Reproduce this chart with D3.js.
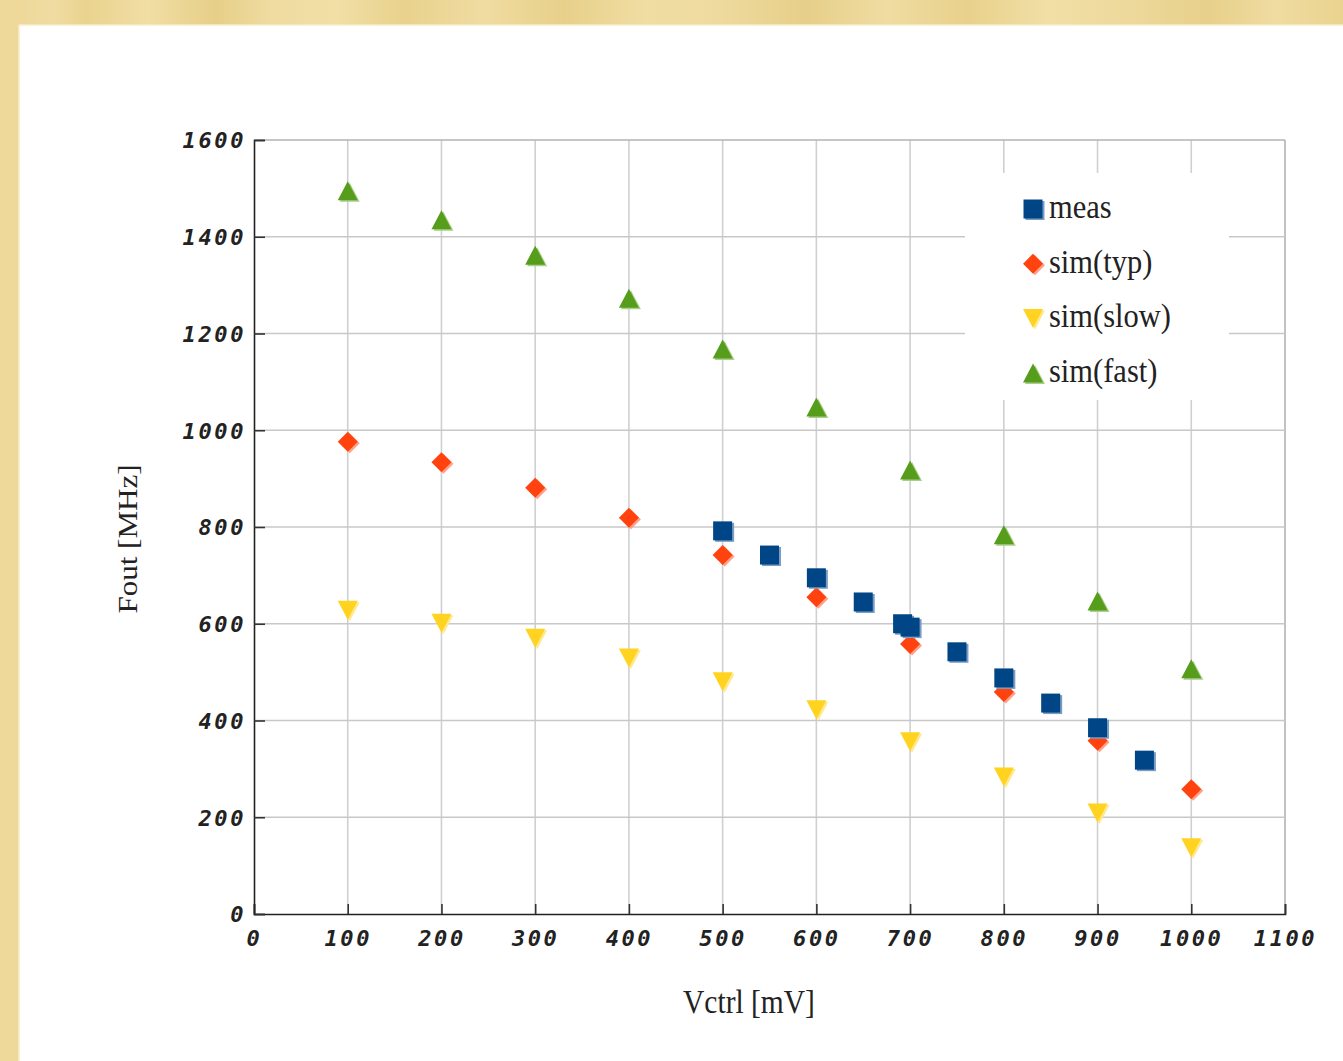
<!DOCTYPE html>
<html>
<head>
<meta charset="utf-8">
<script src="https://cdn.jsdelivr.net/npm/d3@7"></script>
<style>
  html, body { margin: 0; padding: 0; background: #fff; }
  svg { display: block; }
</style>
</head>
<body>
<svg id="chart" width="1343" height="1061"></svg>
<script>
// Control voltage (mV) vs. output frequency (MHz)
const measX = [500, 550, 600, 650, 692, 700, 750, 800, 850, 900, 950];
const measY = [792, 742, 695, 645, 600, 593, 542, 488, 436, 385, 318];
const simX = [100, 200, 300, 400, 500, 600, 700, 800, 900, 1000];
const typY = [976, 934, 881, 819, 742, 655, 558, 459, 358, 258];
const slowY = [628, 601, 570, 529, 480, 422, 356, 283, 209, 137];
const fastY = [1495, 1435, 1362, 1273, 1168, 1048, 918, 784, 647, 507];
const seriesNames = ["meas", "sim(typ)", "sim(slow)", "sim(fast)"];
const xTicks = [0, 100, 200, 300, 400, 500, 600, 700, 800, 900, 1000, 1100];
const yTicks = [0, 200, 400, 600, 800, 1000, 1200, 1400, 1600];

const colors = { meas: "#004586", typ: "#ff420e", slow: "#ffd320", fast: "#579d1c" };
const shades = { meas: "#7b9cc4", typ: "#ffa08a", slow: "#ffe98f", fast: "#a9cf8a" };

const svg = d3.select("#chart");
const W = 1343, H = 1061;

// ---- framed background ----
const defs = svg.append("defs");
const band = defs.append("linearGradient").attr("id", "band").attr("x1", 0).attr("x2", 1).attr("y1", 0).attr("y2", 0);
[[0, "#ecd796"], [0.04, "#f0dca2"], [0.065, "#e9d38f"], [0.11, "#f1dea4"], [0.16, "#e6cf88"],
 [0.2, "#efdba0"], [0.25, "#f1dfa6"], [0.3, "#e8d28d"], [0.36, "#f0dca1"], [0.42, "#e7d08a"],
 [0.48, "#f0dda2"], [0.53, "#efdba0"], [0.6, "#e6cf89"], [0.66, "#f0dca2"], [0.72, "#e8d18c"],
 [0.78, "#f1dfa6"], [0.84, "#eed99c"], [0.9, "#e7d08a"], [0.95, "#f0dca1"], [1, "#e9d38f"]]
  .forEach(([o, c]) => band.append("stop").attr("offset", o).attr("stop-color", c));

svg.append("rect").attr("x", 0).attr("y", 0).attr("width", W).attr("height", 25).attr("fill", "url(#band)");
svg.append("rect").attr("x", 0).attr("y", 0).attr("width", 19).attr("height", H).attr("fill", "#eed99b");
svg.append("rect").attr("x", 19).attr("y", 25).attr("width", W - 19).attr("height", H - 25).attr("fill", "#ffffff");
svg.append("line").attr("x1", 19).attr("x2", W).attr("y1", 25).attr("y2", 25).attr("stroke", "#f8eccb").attr("stroke-width", 1.5);
svg.append("line").attr("x1", 19).attr("x2", 19).attr("y1", 25).attr("y2", H).attr("stroke", "#f8eccb").attr("stroke-width", 1.5);

// ---- scales ----
const x = d3.scaleLinear().domain([0, 1100]).range([254, 1285]);
const y = d3.scaleLinear().domain([0, 1600]).range([914, 140]);

// ---- grid ----
const grid = svg.append("g");
grid.selectAll("line.v").data(xTicks.filter(d => d > 0)).join("line")
  .attr("x1", d => x(d)).attr("x2", d => x(d)).attr("y1", y(1600)).attr("y2", y(0))
  .attr("stroke", d => d === 1100 ? "#b3b3b3" : "#d0d0d0").attr("stroke-width", 1.6);
grid.selectAll("line.h").data(yTicks.filter(d => d > 0)).join("line")
  .attr("x1", x(0)).attr("x2", x(1100)).attr("y1", d => y(d)).attr("y2", d => y(d))
  .attr("stroke", d => d === 1600 ? "#b3b3b3" : "#c8c8c8").attr("stroke-width", 1.4);

// ---- axes ----
const tickFont = "'DejaVu Sans Mono', monospace";
const xAxis = svg.append("g").attr("transform", `translate(0,${y(0)})`)
  .call(d3.axisBottom(x).tickValues(xTicks).tickFormat(d3.format("d")).tickSize(-10).tickPadding(16));
const yAxis = svg.append("g").attr("transform", `translate(${x(0)},0)`)
  .call(d3.axisLeft(y).tickValues(yTicks).tickFormat(d3.format("d")).tickSize(-11).tickPadding(8));
[xAxis, yAxis].forEach(g => {
  g.select(".domain").attr("stroke", "#222").attr("stroke-width", 1.6);
  g.selectAll(".tick line").attr("stroke", "#333").attr("stroke-width", 1.6);
  g.selectAll(".tick text")
    .attr("fill", "#222")
    .style("font-family", tickFont)
    .style("font-size", "22px")
    .style("font-weight", "bold")
    .style("font-style", "italic")
    .style("letter-spacing", "2.6px");
});
xAxis.selectAll(".tick text").attr("dy", "0.71em");
yAxis.selectAll(".tick text").attr("dy", "0.36em");

// ---- axis titles ----
const serif = "'Liberation Serif', 'Times New Roman', serif";
svg.append("text").attr("transform", "translate(749,1013) scale(1,1.12)")
  .attr("text-anchor", "middle").attr("fill", "#222")
  .style("font-family", serif).style("font-size", "29.5px").text("Vctrl [mV]");
svg.append("text").attr("transform", "translate(137,539) rotate(-90) scale(1.15,1)")
  .attr("text-anchor", "middle").attr("fill", "#222")
  .style("font-family", serif).style("font-size", "27px").text("Fout [MHz]");

// ---- marker shapes (centred on their bounding box) ----
const shapes = {
  meas: "M-9.5,-9.5H9.5V9.5H-9.5Z",
  typ: "M0,-10L10,0L0,10L-10,0Z",
  slow: "M-10,-9.5L10,-9.5L0,9.5Z",
  fast: "M0,-9.5L10,9.5L-10,9.5Z"
};

function drawMarks(key, xs, ys) {
  const g = svg.append("g");
  const pts = xs.map((v, i) => [x(v), y(ys[i])]);
  g.selectAll("path.shade").data(pts).join("path")
    .attr("d", shapes[key]).attr("transform", d => `translate(${d[0] + 2},${d[1] + 1.5})`)
    .attr("fill", shades[key]);
  g.selectAll("path.mark").data(pts).join("path")
    .attr("d", shapes[key]).attr("transform", d => `translate(${d[0]},${d[1]})`)
    .attr("fill", colors[key]);
}

drawMarks("fast", simX, fastY);
drawMarks("slow", simX, slowY);
drawMarks("typ", simX, typY);
drawMarks("meas", measX, measY);

// ---- legend ----
const legend = svg.append("g");
legend.append("rect").attr("x", 965).attr("y", 173).attr("width", 264).attr("height", 227).attr("fill", "#fff");
const legendKeys = ["meas", "typ", "slow", "fast"];
legendKeys.forEach((k, i) => {
  const cy = 209 + i * 54.7;
  legend.append("path").attr("d", shapes[k]).attr("transform", `translate(${1035},${cy + 1.5})`).attr("fill", shades[k]);
  legend.append("path").attr("d", shapes[k]).attr("transform", `translate(${1033},${cy})`).attr("fill", colors[k]);
  legend.append("text").attr("transform", `translate(1049,${cy + 9}) scale(1,1.12)`)
    .attr("fill", "#222").style("font-family", serif).style("font-size", "30.5px")
    .text(seriesNames[i]);
});
</script>
</body>
</html>
